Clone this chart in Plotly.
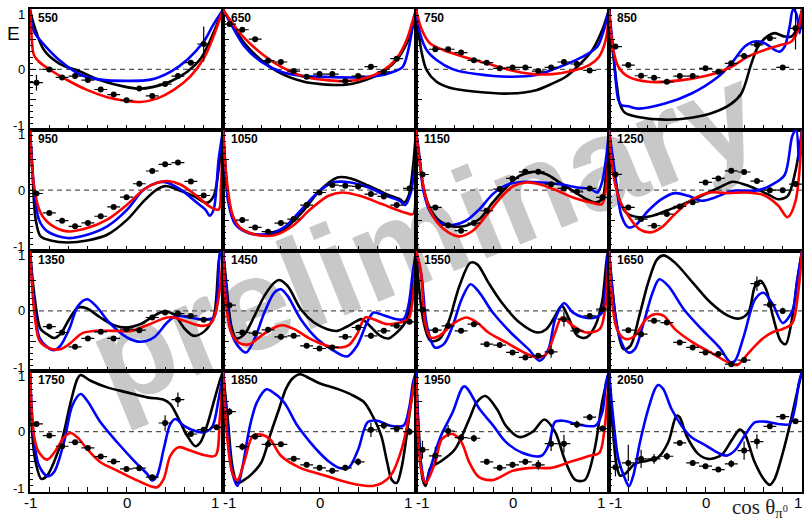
import plotly.graph_objects as go

ENERGIES = [550, 650, 750, 850, 950, 1050, 1150, 1250,
            1350, 1450, 1550, 1650, 1750, 1850, 1950, 2050]
X_BINS = [-0.933, -0.8, -0.667, -0.533, -0.4, -0.267, -0.133, 0.0,
          0.133, 0.267, 0.4, 0.533, 0.667, 0.8, 0.933]
X_HALF = 0.0667
X_TICK_LABELS = ["-1", "0", "1"]
Y_TICK_LABELS = ["1", "0", "-1"]
ZERO_X = [-1, 1]
ZERO_Y = [0, 0]
WATERMARK = "preliminary"

# ---------------- measured E values (None = no point) ----------------
E_550 = [-0.22, 0.0, -0.133, -0.111, -0.178, -0.333, -0.417, -0.511, -0.317, -0.439, -0.244, -0.111, 0.111, 0.42, None]
DE_550 = [0.13, 0.02, 0.02, 0.02, 0.02, 0.02, 0.02, 0.02, 0.02, 0.02, 0.02, 0.03, 0.04, 0.29, None]
E_650 = [0.75, 0.656, 0.5, 0.144, 0.122, -0.028, -0.122, -0.078, -0.078, -0.194, -0.111, 0.044, -0.039, 0.178, None]
DE_650 = [0.02, 0.02, 0.02, 0.02, 0.02, 0.02, 0.02, 0.02, 0.02, 0.02, 0.02, 0.04, 0.02, 0.03, None]
E_750 = [None, 0.333, 0.333, 0.278, 0.15, 0.111, 0.017, 0.033, 0.033, -0.028, 0.033, 0.122, 0.089, -0.017, None]
DE_750 = [None, 0.02, 0.02, 0.02, 0.02, 0.02, 0.02, 0.02, 0.02, 0.02, 0.02, 0.02, 0.03, 0.03, None]
E_850 = [0.378, 0.072, -0.106, -0.139, -0.206, -0.111, -0.111, 0.017, -0.039, 0.1, 0.222, 0.406, 0.517, 0.033, 0.68]
DE_850 = [0.03, 0.03, 0.02, 0.02, 0.02, 0.02, 0.02, 0.02, 0.02, 0.02, 0.02, 0.03, 0.03, 0.03, 0.35]
E_950 = [-0.056, -0.378, -0.506, -0.6, -0.544, -0.433, -0.278, -0.117, 0.106, 0.317, 0.428, 0.456, 0.144, -0.089, None]
DE_950 = [0.02, 0.02, 0.02, 0.02, 0.02, 0.02, 0.02, 0.02, 0.02, 0.02, 0.02, 0.02, 0.02, 0.03, None]
E_1050 = [None, -0.496, -0.617, -0.689, -0.545, -0.479, -0.248, -0.039, 0.083, 0.072, 0.061, -0.066, -0.105, -0.248, 0.028]
DE_1050 = [None, 0.02, 0.02, 0.02, 0.02, 0.02, 0.02, 0.02, 0.02, 0.02, 0.02, 0.02, 0.02, 0.03, 0.04]
E_1150 = [0.259, -0.287, -0.58, -0.672, -0.545, -0.342, 0.017, 0.193, 0.303, 0.303, 0.099, 0.028, -0.028, 0.028, -0.12]
DE_1150 = [0.03, 0.03, 0.02, 0.02, 0.02, 0.02, 0.02, 0.02, 0.02, 0.02, 0.02, 0.02, 0.02, 0.03, 0.05]
E_1250 = [0.26, -0.287, -0.479, -0.59, -0.397, -0.27, -0.2, 0.127, 0.193, 0.32, 0.3, 0.15, 0.0, 0.0, 0.1]
DE_1250 = [0.03, 0.03, 0.02, 0.02, 0.02, 0.02, 0.02, 0.02, 0.02, 0.02, 0.03, 0.03, 0.03, 0.04, 0.05]
E_1350 = [None, -0.26, -0.358, -0.595, -0.457, -0.347, -0.457, -0.303, -0.32, -0.11, -0.028, -0.044, -0.083, -0.149, None]
DE_1350 = [None, 0.03, 0.03, 0.02, 0.02, 0.02, 0.02, 0.02, 0.02, 0.02, 0.02, 0.02, 0.02, 0.03, None]
E_1450 = [0.094, -0.358, -0.369, -0.314, -0.43, -0.413, -0.579, -0.623, -0.606, -0.43, -0.275, -0.413, -0.331, -0.248, -0.182]
DE_1450 = [0.03, 0.03, 0.02, 0.02, 0.02, 0.02, 0.02, 0.02, 0.02, 0.02, 0.03, 0.05, 0.03, 0.03, 0.03]
E_1550 = [0.017, -0.32, -0.248, -0.331, -0.22, -0.551, -0.567, -0.689, -0.771, -0.744, -0.678, -0.138, -0.331, -0.083, 0.028]
DE_1550 = [0.03, 0.03, 0.03, 0.02, 0.02, 0.02, 0.02, 0.02, 0.02, 0.03, 0.1, 0.12, 0.04, 0.03, 0.04]
E_1650 = [None, -0.32, -0.386, -0.165, -0.193, -0.523, -0.606, -0.689, -0.716, -0.882, -0.815, 0.45, 0.1, 0.0, None]
DE_1650 = [None, 0.03, 0.03, 0.02, 0.02, 0.02, 0.02, 0.02, 0.02, 0.04, 0.05, 0.12, 0.05, 0.05, None]
E_1750 = [0.127, -0.066, -0.242, -0.176, -0.27, -0.413, -0.496, -0.617, -0.606, -0.755, 0.143, 0.529, -0.039, 0.033, 0.072]
DE_1750 = [0.03, 0.04, 0.03, 0.03, 0.03, 0.02, 0.02, 0.02, 0.03, 0.04, 0.13, 0.12, 0.05, 0.04, 0.04]
E_1850 = [0.33, -0.25, -0.08, -0.21, -0.21, -0.45, -0.55, -0.6, -0.65, -0.6, -0.5, 0.03, 0.1, 0.05, 0.0]
DE_1850 = [0.06, 0.06, 0.05, 0.04, 0.04, 0.04, 0.04, 0.04, 0.04, 0.05, 0.06, 0.12, 0.06, 0.05, 0.06]
E_1950 = [-0.3, -0.4, 0.01, -0.1, -0.11, -0.5, -0.6, -0.55, -0.5, -0.55, -0.2, -0.2, 0.12, 0.24, 0.05]
DE_1950 = [0.15, 0.15, 0.1, 0.06, 0.06, 0.05, 0.05, 0.05, 0.05, 0.08, 0.12, 0.15, 0.06, 0.05, 0.05]
E_2050 = [-0.59, -0.518, -0.452, -0.452, -0.408, -0.187, -0.518, -0.573, -0.628, -0.534, -0.314, -0.165, 0.088, 0.248, 0.171]
DE_2050 = [0.15, 0.3, 0.15, 0.08, 0.06, 0.04, 0.04, 0.04, 0.04, 0.06, 0.15, 0.12, 0.04, 0.04, 0.04]

# ---------------- model curves (x, E) ----------------
BLACK_550 = [(-1, 0.99), (-0.96, 0.74), (-0.855, 0.32), (-0.7, 0.1), (-0.476, -0.04), (-0.27, -0.18), (-0.01, -0.29), (0.128, -0.32), (0.28, -0.29), (0.455, -0.2), (0.63, -0.04), (0.77, 0.18), (0.87, 0.49), (1, 0.99)]
BLUE_550 = [(-1, 0.99), (-0.96, 0.63), (-0.855, 0.41), (-0.7, 0.16), (-0.476, -0.09), (-0.27, -0.17), (-0.01, -0.19), (0.25, -0.17), (0.455, -0.04), (0.63, 0.16), (0.8, 0.46), (0.9, 0.74), (1, 0.99)]
RED_550 = [(-1, 0.99), (-0.986, 0.6), (-0.96, 0.24), (-0.91, 0.13), (-0.79, -0.01), (-0.61, -0.18), (-0.41, -0.34), (-0.2, -0.46), (-0.01, -0.52), (0.145, -0.54), (0.32, -0.48), (0.49, -0.34), (0.66, -0.12), (0.8, 0.18), (0.9, 0.54), (1, 0.99)]

BLACK_650 = [(-1, 0.99), (-0.914, 0.77), (-0.777, 0.43), (-0.605, 0.156), (-0.4, -0.067), (-0.16, -0.206), (0.012, -0.244), (0.27, -0.256), (0.42, -0.206), (0.63, -0.067), (0.8, 0.156), (0.904, 0.43), (0.955, 0.65), (1, 0.99)]
BLUE_650 = [(-1, 0.99), (-0.914, 0.74), (-0.777, 0.38), (-0.605, 0.128), (-0.4, -0.039), (-0.16, -0.111), (0.012, -0.122), (0.355, -0.133), (0.595, -0.111), (0.767, -0.039), (0.863, 0.044), (0.92, 0.32), (0.966, 0.71), (1, 0.99)]
RED_650 = [(-1, 0.99), (-0.914, 0.79), (-0.777, 0.517), (-0.605, 0.267), (-0.4, 0.044), (-0.16, -0.122), (0.08, -0.178), (0.269, -0.194), (0.458, -0.15), (0.664, -0.011), (0.8, 0.183), (0.904, 0.49), (0.97, 0.83), (1, 0.99)]

BLACK_750 = [(-1, 0.99), (-0.976, 0.656), (-0.94, 0.267), (-0.89, -0.011), (-0.787, -0.206), (-0.65, -0.306), (-0.375, -0.372), (-0.03, -0.4), (0.244, -0.344), (0.416, -0.233), (0.553, -0.122), (0.69, 0.072), (0.828, 0.322), (0.931, 0.656), (1, 0.99)]
BLUE_750 = [(-1, 0.99), (-0.959, 0.6), (-0.89, 0.322), (-0.787, 0.156), (-0.615, 0.0), (-0.375, -0.078), (-0.03, -0.122), (0.244, -0.094), (0.45, 0.017), (0.622, 0.128), (0.76, 0.239), (0.88, 0.378), (0.948, 0.656), (1, 0.99)]
RED_750 = [(-1, 0.99), (-0.94, 0.656), (-0.856, 0.433), (-0.718, 0.322), (-0.512, 0.211), (-0.271, 0.1), (-0.03, -0.011), (0.21, -0.078), (0.416, -0.078), (0.622, -0.022), (0.794, 0.072), (0.897, 0.211), (0.966, 0.489), (1, 0.94)]

BLACK_850 = [(-1, 0.99), (-0.972, 0.49), (-0.92, -0.25), (-0.886, -0.58), (-0.834, -0.72), (-0.697, -0.789), (-0.42, -0.833), (-0.145, -0.8), (0.097, -0.706), (0.269, -0.567), (0.372, -0.4), (0.476, 0.1), (0.545, 0.378), (0.648, 0.556), (0.717, 0.6), (0.82, 0.544), (0.89, 0.544), (0.941, 0.656), (1, 0.99)]
BLUE_850 = [(-1, 0.99), (-0.955, 0.32), (-0.903, -0.51), (-0.869, -0.594), (-0.8, -0.611), (-0.697, -0.65), (-0.42, -0.567), (-0.145, -0.4), (0.131, -0.122), (0.269, 0.1), (0.407, 0.378), (0.51, 0.461), (0.614, 0.433), (0.717, 0.322), (0.769, 0.294), (0.82, 0.378), (0.872, 0.711), (0.907, 0.99), (0.94, 0.93), (0.976, 0.6), (1, 0.94)]
RED_850 = [(-1, 0.99), (-0.955, 0.32), (-0.903, 0.044), (-0.8, -0.122), (-0.593, -0.206), (-0.248, -0.178), (0.097, -0.067), (0.269, 0.044), (0.441, 0.211), (0.614, 0.322), (0.786, 0.406), (0.89, 0.461), (0.959, 0.656), (1, 0.99)]

BLACK_950 = [(-1, 0.99), (-0.976, 0.344), (-0.941, -0.489), (-0.89, -0.767), (-0.786, -0.833), (-0.614, -0.867), (-0.407, -0.833), (-0.2, -0.739), (0.007, -0.489), (0.179, -0.183), (0.317, 0.011), (0.403, 0.067), (0.524, 0.011), (0.697, -0.1), (0.834, -0.211), (0.903, -0.1), (0.955, 0.344), (1, 0.99)]
BLUE_950 = [(-1, 0.99), (-0.959, 0.067), (-0.907, -0.489), (-0.82, -0.683), (-0.614, -0.794), (-0.407, -0.739), (-0.2, -0.6), (0.007, -0.322), (0.179, 0.011), (0.317, 0.122), (0.403, 0.133), (0.559, 0.011), (0.731, -0.211), (0.817, -0.322), (0.862, -0.422), (0.903, -0.322), (0.955, 0.511), (1, 0.99)]
RED_950 = [(-1, 0.99), (-0.959, 0.067), (-0.89, -0.378), (-0.786, -0.572), (-0.614, -0.683), (-0.407, -0.628), (-0.2, -0.489), (0.007, -0.239), (0.179, 0.011), (0.317, 0.122), (0.42, 0.15), (0.559, 0.094), (0.731, -0.1), (0.869, -0.278), (0.955, -0.322), (0.979, 0.067), (1, 0.956)]

BLACK_1050 = [(-1, 0.99), (-0.975, 0.4), (-0.945, -0.149), (-0.875, -0.534), (-0.737, -0.7), (-0.552, -0.744), (-0.368, -0.645), (-0.183, -0.369), (0.001, -0.011), (0.186, 0.209), (0.324, 0.193), (0.509, 0.072), (0.694, -0.066), (0.832, -0.149), (0.878, -0.204), (0.924, -0.094), (0.97, 0.4), (1, 0.99)]
BLUE_1050 = [(-1, 0.99), (-0.975, 0.35), (-0.945, -0.2), (-0.875, -0.56), (-0.737, -0.71), (-0.552, -0.727), (-0.368, -0.617), (-0.183, -0.314), (0.001, -0.011), (0.14, 0.127), (0.324, 0.127), (0.509, 0.044), (0.694, -0.094), (0.832, -0.176), (0.887, -0.248), (0.947, -0.039), (0.99, 0.5), (1, 0.99)]
RED_1050 = [(-1, 0.99), (-0.958, 0.127), (-0.898, -0.424), (-0.806, -0.645), (-0.645, -0.744), (-0.46, -0.744), (-0.276, -0.59), (-0.091, -0.314), (0.094, -0.094), (0.232, -0.039), (0.417, -0.094), (0.647, -0.231), (0.878, -0.369), (0.97, -0.397), (0.993, 0.127), (1, 0.99)]

BLACK_1150 = [(-1, 0.99), (-0.96, 0.5), (-0.92, 0.017), (-0.85, -0.314), (-0.757, -0.507), (-0.619, -0.6), (-0.481, -0.59), (-0.342, -0.479), (-0.204, -0.204), (-0.066, 0.044), (0.073, 0.237), (0.211, 0.303), (0.35, 0.264), (0.488, 0.127), (0.627, -0.011), (0.765, -0.149), (0.857, -0.204), (0.927, -0.149), (0.973, 0.347), (1, 0.99)]
BLUE_1150 = [(-1, 0.99), (-0.96, 0.45), (-0.92, -0.039), (-0.85, -0.369), (-0.757, -0.534), (-0.619, -0.578), (-0.481, -0.507), (-0.342, -0.314), (-0.204, -0.066), (-0.066, 0.083), (0.119, 0.138), (0.303, 0.127), (0.488, 0.099), (0.673, 0.044), (0.811, 0.017), (0.88, -0.039), (0.927, 0.127), (0.973, 0.567), (1, 0.99)]
RED_1150 = [(-1, 0.99), (-0.943, 0.237), (-0.873, -0.259), (-0.78, -0.534), (-0.665, -0.7), (-0.55, -0.766), (-0.411, -0.672), (-0.273, -0.424), (-0.135, -0.149), (0.004, 0.061), (0.142, 0.127), (0.28, 0.099), (0.442, 0.006), (0.627, -0.121), (0.811, -0.204), (0.927, -0.231), (0.973, 0.072), (1, 0.99)]

BLACK_1250 = [(-1, 0.99), (-0.96, 0.45), (-0.894, -0.149), (-0.825, -0.369), (-0.686, -0.452), (-0.548, -0.424), (-0.409, -0.342), (-0.225, -0.231), (-0.04, -0.094), (0.144, 0.044), (0.283, 0.138), (0.421, 0.083), (0.55, 0.0), (0.65, -0.07), (0.75, -0.15), (0.85, -0.1), (0.93, 0.3), (1, 0.99)]
BLUE_1250 = [(-1, 0.99), (-0.94, 0.3), (-0.871, -0.424), (-0.8, -0.617), (-0.732, -0.59), (-0.594, -0.342), (-0.455, -0.149), (-0.317, -0.05), (-0.179, -0.094), (-0.04, -0.176), (0.098, -0.121), (0.283, -0.011), (0.421, -0.011), (0.55, 0.0), (0.7, 0.1), (0.82, 0.25), (0.9, 0.9), (0.94, 1.0), (0.97, 0.5), (1, 0.99)]
RED_1250 = [(-1, 0.99), (-0.96, 0.3), (-0.894, -0.149), (-0.8, -0.424), (-0.686, -0.645), (-0.571, -0.7), (-0.455, -0.617), (-0.317, -0.397), (-0.132, -0.149), (0.052, -0.039), (0.237, -0.05), (0.421, -0.039), (0.6, -0.08), (0.75, -0.25), (0.85, -0.45), (0.93, -0.2), (1, 0.99)]

BLACK_1350 = [(-1, 0.99), (-0.95, 0.2), (-0.89, -0.3), (-0.82, -0.39), (-0.75, -0.45), (-0.686, -0.386), (-0.594, -0.138), (-0.502, 0.055), (-0.409, 0.039), (-0.271, -0.11), (-0.132, -0.237), (0.006, -0.275), (0.144, -0.22), (0.283, -0.083), (0.375, -0.017), (0.49, -0.055), (0.606, -0.303), (0.698, -0.413), (0.813, -0.331), (0.905, -0.083), (0.972, 0.96), (1, 0.99)]
BLUE_1350 = [(-1, 0.99), (-0.95, 0.0), (-0.9, -0.45), (-0.82, -0.6), (-0.75, -0.65), (-0.686, -0.579), (-0.594, -0.303), (-0.502, 0.083), (-0.409, 0.193), (-0.317, 0.083), (-0.179, -0.193), (0.006, -0.441), (0.144, -0.512), (0.283, -0.441), (0.421, -0.193), (0.514, -0.083), (0.652, -0.11), (0.79, -0.138), (0.905, -0.11), (0.972, 0.96), (1, 0.99)]
RED_1350 = [(-1, 0.99), (-0.95, -0.1), (-0.9, -0.5), (-0.8, -0.62), (-0.686, -0.634), (-0.594, -0.551), (-0.456, -0.369), (-0.317, -0.331), (-0.132, -0.331), (0.052, -0.331), (0.237, -0.22), (0.421, -0.11), (0.49, -0.11), (0.652, -0.193), (0.79, -0.248), (0.882, -0.193), (0.952, 0.193), (1, 0.99)]

BLACK_1450 = [(-1, 0.99), (-0.966, 0.468), (-0.914, -0.248), (-0.863, -0.457), (-0.777, -0.386), (-0.674, -0.083), (-0.571, 0.248), (-0.468, 0.468), (-0.417, 0.512), (-0.331, 0.413), (-0.194, 0.028), (-0.057, -0.193), (0.081, -0.303), (0.184, -0.331), (0.286, -0.259), (0.389, -0.165), (0.441, -0.138), (0.527, -0.259), (0.63, -0.413), (0.715, -0.457), (0.801, -0.358), (0.887, -0.193), (0.938, 0.083), (0.973, 0.523), (1, 0.99)]
BLUE_1450 = [(-1, 0.99), (-0.966, 0.358), (-0.914, -0.358), (-0.846, -0.579), (-0.76, -0.689), (-0.674, -0.468), (-0.571, -0.028), (-0.468, 0.303), (-0.4, 0.358), (-0.331, 0.248), (-0.194, -0.138), (-0.022, -0.468), (0.149, -0.661), (0.286, -0.755), (0.389, -0.579), (0.492, -0.193), (0.561, -0.028), (0.664, -0.072), (0.767, -0.127), (0.87, -0.138), (0.921, 0.083), (0.966, 0.634), (1, 0.99)]
RED_1450 = [(-1, 0.99), (-0.966, 0.083), (-0.914, -0.358), (-0.828, -0.534), (-0.726, -0.551), (-0.605, -0.413), (-0.468, -0.275), (-0.383, -0.237), (-0.262, -0.303), (-0.091, -0.468), (0.081, -0.579), (0.218, -0.606), (0.304, -0.567), (0.389, -0.386), (0.475, -0.11), (0.561, -0.138), (0.698, -0.22), (0.835, -0.193), (0.921, -0.138), (0.966, 0.193), (1, 0.99)]

BLACK_1550 = [(-1, 0.99), (-0.92, -0.193), (-0.85, -0.496), (-0.758, -0.468), (-0.665, -0.193), (-0.55, 0.413), (-0.435, 0.799), (-0.365, 0.771), (-0.25, 0.468), (-0.112, 0.138), (0.073, -0.193), (0.258, -0.358), (0.35, -0.303), (0.442, -0.083), (0.511, 0.083), (0.58, -0.11), (0.673, -0.413), (0.765, -0.441), (0.857, -0.248), (0.927, 0.138), (0.987, 0.96), (1, 0.99)]
BLUE_1550 = [(-1, 0.99), (-0.943, 0.579), (-0.887, -0.248), (-0.804, -0.606), (-0.712, -0.551), (-0.62, -0.248), (-0.527, 0.193), (-0.435, 0.441), (-0.343, 0.303), (-0.204, -0.028), (-0.019, -0.358), (0.166, -0.634), (0.281, -0.826), (0.373, -0.634), (0.442, -0.138), (0.535, 0.127), (0.627, -0.028), (0.742, -0.11), (0.857, -0.11), (0.927, -0.028), (0.987, 0.909), (1, 0.99)]
RED_1550 = [(-1, 0.99), (-0.952, 0.689), (-0.906, -0.193), (-0.85, -0.441), (-0.758, -0.413), (-0.62, -0.22), (-0.481, -0.11), (-0.366, -0.193), (-0.25, -0.358), (-0.065, -0.523), (0.119, -0.689), (0.258, -0.771), (0.35, -0.716), (0.442, -0.358), (0.511, -0.11), (0.627, -0.248), (0.765, -0.358), (0.904, -0.303), (0.959, 0.028), (0.996, 0.96)]

BLACK_1650 = [(-1, 0.99), (-0.917, -0.248), (-0.848, -0.634), (-0.778, -0.579), (-0.686, -0.083), (-0.594, 0.468), (-0.502, 0.854), (-0.432, 0.92), (-0.317, 0.799), (-0.132, 0.468), (0.052, 0.138), (0.237, -0.083), (0.352, -0.127), (0.444, -0.028), (0.514, 0.413), (0.57, 0.5), (0.63, 0.35), (0.7, -0.1), (0.78, -0.5), (0.83, -0.55), (0.9, -0.1), (0.95, 0.5), (1, 0.99)]
BLUE_1650 = [(-1, 0.99), (-0.894, -0.413), (-0.8, -0.689), (-0.732, -0.634), (-0.64, -0.193), (-0.548, 0.303), (-0.479, 0.523), (-0.386, 0.413), (-0.225, 0.028), (-0.04, -0.303), (0.144, -0.606), (0.26, -0.854), (0.306, -0.826), (0.398, -0.413), (0.514, 0.193), (0.6, 0.3), (0.7, 0.1), (0.8, -0.2), (0.9, 0.0), (0.95, 0.5), (1, 0.99)]
RED_1650 = [(-1, 0.99), (-0.917, -0.303), (-0.825, -0.468), (-0.732, -0.413), (-0.617, -0.138), (-0.525, -0.055), (-0.432, -0.083), (-0.317, -0.303), (-0.132, -0.523), (0.052, -0.689), (0.237, -0.854), (0.329, -0.898), (0.421, -0.744), (0.514, -0.579), (0.6, -0.45), (0.7, -0.35), (0.8, -0.3), (0.9, -0.2), (0.96, 0.3), (1, 0.99)]

BLACK_1750 = [(-1, 0.99), (-0.976, -0.066), (-0.941, -0.507), (-0.883, -0.782), (-0.821, -0.727), (-0.752, -0.507), (-0.666, -0.121), (-0.579, 0.485), (-0.51, 0.87), (-0.476, 0.937), (-0.372, 0.843), (-0.2, 0.733), (0.007, 0.65), (0.214, 0.567), (0.386, 0.529), (0.455, 0.457), (0.541, 0.209), (0.628, -0.066), (0.714, -0.242), (0.766, -0.176), (0.834, 0.099), (0.903, 0.485), (0.972, 0.87), (1, 0.99)]
BLUE_1750 = [(-1, 0.99), (-0.959, -0.121), (-0.907, -0.562), (-0.821, -0.738), (-0.752, -0.672), (-0.648, -0.176), (-0.562, 0.43), (-0.476, 0.623), (-0.407, 0.512), (-0.269, 0.154), (-0.097, -0.176), (0.076, -0.479), (0.214, -0.7), (0.266, -0.81), (0.317, -0.727), (0.386, -0.287), (0.455, 0.127), (0.507, 0.209), (0.593, 0.099), (0.697, 0.017), (0.8, -0.011), (0.886, 0.072), (0.955, 0.54), (1, 0.95)]
RED_1750 = [(-1, 0.99), (-0.959, -0.066), (-0.907, -0.342), (-0.821, -0.463), (-0.734, -0.314), (-0.648, -0.094), (-0.579, -0.022), (-0.51, -0.094), (-0.407, -0.287), (-0.269, -0.507), (-0.097, -0.645), (0.076, -0.782), (0.248, -0.904), (0.317, -0.92), (0.386, -0.782), (0.455, -0.397), (0.541, -0.259), (0.662, -0.314), (0.8, -0.386), (0.921, -0.397), (0.966, 0.209), (1, 0.95)]

BLACK_1850 = [(-1, 0.99), (-0.95, 0.2), (-0.9, -0.6), (-0.85, -0.85), (-0.78, -0.8), (-0.7, -0.7), (-0.6, -0.5), (-0.5, 0.0), (-0.42, 0.37), (-0.35, 0.7), (-0.28, 0.88), (-0.2, 0.95), (-0.1, 0.88), (0.0, 0.8), (0.1, 0.75), (0.2, 0.7), (0.32, 0.62), (0.46, 0.49), (0.55, 0.26), (0.64, -0.07), (0.7, -0.5), (0.75, -0.8), (0.8, -0.85), (0.85, -0.6), (0.9, -0.1), (0.95, 0.5), (1, 0.99)]
BLUE_1850 = [(-1, 0.99), (-0.95, 0.0), (-0.9, -0.7), (-0.85, -0.9), (-0.8, -0.6), (-0.72, 0.1), (-0.65, 0.48), (-0.55, 0.7), (-0.5, 0.67), (-0.37, 0.49), (-0.23, 0.1), (-0.1, -0.17), (0.0, -0.35), (0.1, -0.5), (0.2, -0.6), (0.3, -0.6), (0.4, -0.3), (0.5, 0.16), (0.6, 0.18), (0.73, 0.1), (0.87, 0.1), (0.93, 0.4), (0.97, 0.82), (1, 0.99)]
RED_1850 = [(-1, 0.99), (-0.95, -0.2), (-0.9, -0.7), (-0.85, -0.8), (-0.78, -0.5), (-0.69, -0.07), (-0.6, -0.05), (-0.51, -0.13), (-0.4, -0.4), (-0.2, -0.6), (0.0, -0.7), (0.2, -0.8), (0.4, -0.88), (0.55, -0.9), (0.65, -0.85), (0.75, -0.7), (0.85, -0.3), (0.92, 0.2), (0.97, 0.7), (1, 0.99)]

BLACK_1950 = [(-1, 0.99), (-0.97, 0.0), (-0.93, -0.8), (-0.9, -0.9), (-0.85, -0.6), (-0.75, -0.5), (-0.6, -0.3), (-0.45, 0.2), (-0.37, 0.49), (-0.28, 0.59), (-0.16, 0.37), (-0.07, 0.1), (0.07, -0.09), (0.21, 0.0), (0.33, 0.2), (0.44, 0.0), (0.55, -0.5), (0.65, -0.8), (0.75, -0.8), (0.85, -0.3), (0.93, 0.5), (1, 0.99)]
BLUE_1950 = [(-1, 0.99), (-0.95, -0.5), (-0.9, -0.85), (-0.85, -0.6), (-0.75, -0.1), (-0.62, 0.32), (-0.5, 0.75), (-0.34, 0.37), (-0.2, 0.1), (-0.07, -0.17), (0.1, -0.35), (0.3, -0.4), (0.38, -0.2), (0.44, 0.16), (0.53, 0.18), (0.67, 0.12), (0.86, 0.1), (0.93, 0.32), (0.97, 0.82), (1, 0.99)]
RED_1950 = [(-1, 0.9), (-0.95, -0.6), (-0.9, -0.85), (-0.8, -0.5), (-0.73, -0.12), (-0.62, -0.04), (-0.53, -0.17), (-0.45, -0.5), (-0.35, -0.75), (-0.2, -0.8), (0.0, -0.65), (0.2, -0.6), (0.4, -0.6), (0.6, -0.5), (0.8, -0.4), (0.9, -0.35), (0.95, 0.0), (1, 0.99)]

BLACK_2050 = [(-1, 0.99), (-0.955, -0.066), (-0.921, -0.562), (-0.886, -0.727), (-0.834, -0.7), (-0.731, -0.534), (-0.593, -0.479), (-0.49, -0.424), (-0.386, -0.176), (-0.3, 0.264), (-0.266, 0.237), (-0.197, -0.066), (-0.076, -0.369), (0.028, -0.452), (0.166, -0.386), (0.269, -0.149), (0.355, 0.033), (0.407, -0.039), (0.51, -0.507), (0.614, -0.81), (0.666, -0.882), (0.717, -0.782), (0.803, -0.342), (0.872, 0.099), (0.941, 0.595), (1, 0.99)]
BLUE_2050 = [(-1, 0.99), (-0.955, 0.209), (-0.903, -0.452), (-0.834, -0.782), (-0.793, -0.904), (-0.748, -0.727), (-0.679, -0.176), (-0.593, 0.375), (-0.524, 0.705), (-0.49, 0.771), (-0.438, 0.705), (-0.352, 0.375), (-0.248, 0.099), (-0.145, -0.094), (-0.007, -0.22), (0.131, -0.353), (0.217, -0.397), (0.303, -0.314), (0.407, -0.066), (0.51, 0.154), (0.614, 0.165), (0.752, 0.127), (0.872, 0.127), (0.924, 0.375), (0.969, 0.815), (1, 0.99)]
RED_2050 = []

PANEL_DATA = {
    550: (E_550, DE_550, BLACK_550, BLUE_550, RED_550),
    650: (E_650, DE_650, BLACK_650, BLUE_650, RED_650),
    750: (E_750, DE_750, BLACK_750, BLUE_750, RED_750),
    850: (E_850, DE_850, BLACK_850, BLUE_850, RED_850),
    950: (E_950, DE_950, BLACK_950, BLUE_950, RED_950),
    1050: (E_1050, DE_1050, BLACK_1050, BLUE_1050, RED_1050),
    1150: (E_1150, DE_1150, BLACK_1150, BLUE_1150, RED_1150),
    1250: (E_1250, DE_1250, BLACK_1250, BLUE_1250, RED_1250),
    1350: (E_1350, DE_1350, BLACK_1350, BLUE_1350, RED_1350),
    1450: (E_1450, DE_1450, BLACK_1450, BLUE_1450, RED_1450),
    1550: (E_1550, DE_1550, BLACK_1550, BLUE_1550, RED_1550),
    1650: (E_1650, DE_1650, BLACK_1650, BLUE_1650, RED_1650),
    1750: (E_1750, DE_1750, BLACK_1750, BLUE_1750, RED_1750),
    1850: (E_1850, DE_1850, BLACK_1850, BLUE_1850, RED_1850),
    1950: (E_1950, DE_1950, BLACK_1950, BLUE_1950, RED_1950),
    2050: (E_2050, DE_2050, BLACK_2050, BLUE_2050, RED_2050),
}

fig = go.Figure()

# watermark, drawn in the first (bottom-most) subplot so that panels lie above it
fig.add_trace(go.Bar(
    x=[0.51], y=[0.2], base=[0.433], width=[0.2],
    text=[WATERMARK], textposition="inside", insidetextanchor="middle",
    textangle=-22, constraintext="none", cliponaxis=False,
    textfont=dict(family="Liberation Sans", size=131, color="#c8c8c8", weight="bold"),
    marker=dict(color="rgba(0,0,0,0)", line=dict(width=0)),
    xaxis="x", yaxis="y", hoverinfo="skip", showlegend=False))

layout = dict(
    xaxis=dict(domain=[0, 1], range=[0, 1], visible=False, fixedrange=True),
    yaxis=dict(domain=[0, 1], range=[0, 1], visible=False, fixedrange=True),
)
annotations = []
LINE_W = 2.6
for i, en in enumerate(ENERGIES):
    r, c = divmod(i, 4)
    n = i + 2
    xa, ya = f"x{n}", f"y{n}"
    e_vals, e_errs, black, blue, red = PANEL_DATA[en]

    fig.add_trace(go.Scatter(x=ZERO_X, y=ZERO_Y, mode="lines", xaxis=xa, yaxis=ya,
                             line=dict(color="#555555", width=1.4, dash="5px,4px"),
                             hoverinfo="skip", showlegend=False))
    for curve, col in ((black, "#000000"), (blue, "#0000ff"), (red, "#ff0000")):
        if not curve:
            continue
        fig.add_trace(go.Scatter(x=[p[0] for p in curve], y=[p[1] for p in curve],
                                 mode="lines", xaxis=xa, yaxis=ya,
                                 line=dict(color=col, width=LINE_W, shape="spline", smoothing=0.9),
                                 hoverinfo="skip", showlegend=False))
    px = [x for x, e in zip(X_BINS, e_vals) if e is not None]
    py = [e for e in e_vals if e is not None]
    pe = [d for d, e in zip(e_errs, e_vals) if e is not None]
    fig.add_trace(go.Scatter(x=px, y=py, mode="markers", xaxis=xa, yaxis=ya,
                             marker=dict(color="black", size=6),
                             error_x=dict(type="data", array=[X_HALF] * len(px), color="black", thickness=1.2, width=0),
                             error_y=dict(type="data", array=pe, color="black", thickness=1.2, width=0),
                             hoverinfo="skip", showlegend=False))

    layout[f"xaxis{n}"] = dict(
        domain=[c / 4, (c + 1) / 4], range=[-1, 1], anchor=ya,
        showline=True, mirror=True, linecolor="black", linewidth=1.5,
        ticks="inside", tick0=-1, dtick=0.2, ticklen=5, tickwidth=1, tickcolor="black",
        showticklabels=False, showgrid=False, zeroline=False, fixedrange=True)
    layout[f"yaxis{n}"] = dict(
        domain=[1 - (r + 1) / 4, 1 - r / 4], range=[-1, 1], anchor=xa,
        showline=True, mirror=True, linecolor="black", linewidth=1.5,
        ticks="inside", tickvals=[-1, -0.5, 0, 0.5, 1], ticklen=6, tickwidth=1, tickcolor="black",
        minor=dict(ticks="inside", dtick=0.1, tick0=-1, ticklen=3, tickcolor="black", showgrid=False),
        showticklabels=False, showgrid=False, zeroline=False, fixedrange=True)

    annotations.append(dict(text=f"<b>{en}</b>", xref=f"{xa} domain", yref=f"{ya} domain",
                            x=0, y=1, xanchor="left", yanchor="top", xshift=6, yshift=0,
                            showarrow=False, font=dict(family="Liberation Sans", size=12, color="black")))
    if c == 0:
        for lab, yv, ys in zip(Y_TICK_LABELS, [1, 0, -1], [-5, 0, 4]):
            annotations.append(dict(text=lab, xref=f"{xa} domain", yref=ya, x=0, y=yv,
                                    xanchor="right", yanchor="middle", xshift=-4, yshift=ys, borderpad=0,
                                    showarrow=False, font=dict(family="Liberation Sans", size=13, color="black")))
    if r == 3:
        anchors = [("center" if c == 0 else "left"), "center", "right"]
        shifts = [0 if c == 0 else -2, 0, (2 if c == 3 else -2)]
        for lab, xv, xa_, xs in zip(X_TICK_LABELS, [-1, 0, 1], anchors, shifts):
            annotations.append(dict(text=lab, xref=xa, yref=f"{ya} domain", x=xv, y=0,
                                    xanchor=xa_, yanchor="middle", xshift=xs, yshift=-10,
                                    showarrow=False, font=dict(family="Liberation Sans", size=15, color="black")))

annotations.append(dict(text="E", xref="x2 domain", yref="y2 domain", x=0, y=1,
                        xanchor="center", yanchor="middle", xshift=-17, yshift=-24,
                        showarrow=False, font=dict(family="Liberation Sans", size=19, color="black")))
annotations.append(dict(text="cos θ<sub>π<sup>0</sup></sub>", xref="x17 domain", yref="y17 domain",
                        x=1, y=0, xanchor="right", yanchor="middle", xshift=-12, yshift=-16,
                        showarrow=False, font=dict(family="Liberation Serif", size=21, color="#222222")))

fig.update_layout(**layout)
fig.update_layout(
    width=808, height=522,
    margin=dict(l=30, r=4, t=9, b=30),
    paper_bgcolor="white", plot_bgcolor="rgba(0,0,0,0)",
    showlegend=False, annotations=annotations, bargap=0,
)
fig.write_html("out.html", config={"displayModeBar": False},
               post_script="document.body.style.margin='0px';document.body.style.overflow='hidden';")
